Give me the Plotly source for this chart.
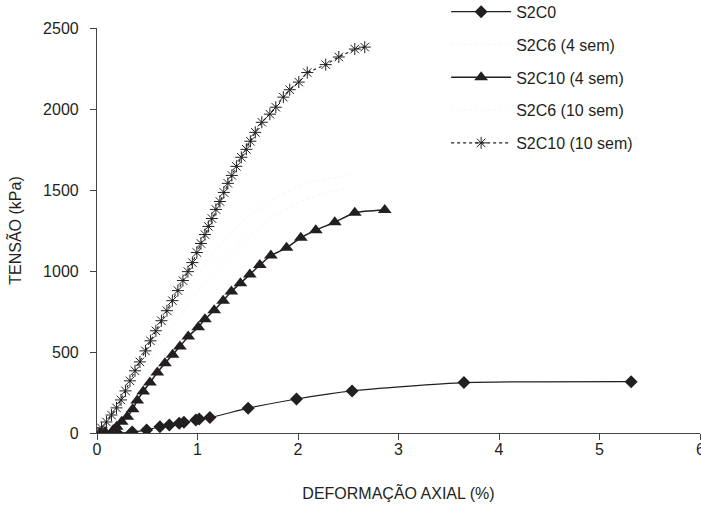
import plotly.graph_objects as go

# ---- data ----
s2c0_x = [0.20, 0.35, 0.494, 0.626, 0.72, 0.818, 0.865, 0.984, 1.017, 1.123, 1.504, 1.985, 2.538, 3.651, 5.315]
s2c0_y = [0, 6, 19, 39, 50, 60, 66, 80, 87, 95, 153, 210, 260, 311, 317]

s2c6_4_x = [0, 0.2, 0.4, 0.6, 0.8, 1.0, 1.2, 1.4, 1.6, 1.8, 2.0, 2.2, 2.4, 2.5]
s2c6_4_y = [0, 150, 330, 520, 700, 870, 1020, 1150, 1260, 1350, 1420, 1470, 1500, 1510]

s2c10_4_x = [0.03, 0.08, 0.162, 0.196, 0.246, 0.301, 0.355, 0.40, 0.46, 0.527, 0.60, 0.676, 0.752, 0.825,
             0.908, 1.007, 1.074, 1.166, 1.255, 1.337, 1.427, 1.521, 1.620, 1.730, 1.886, 2.028, 2.177,
             2.366, 2.565, 2.863]
s2c10_4_y = [0, 6, 19, 39, 70, 101, 147, 200, 256, 311, 373, 431, 483, 534, 596, 653, 702, 758, 816,
             873, 925, 978, 1037, 1095, 1143, 1205, 1252, 1301, 1360, 1376]

s2c6_10_x = [0, 0.2, 0.4, 0.6, 0.8, 1.0, 1.2, 1.4, 1.6, 1.8, 2.0, 2.2, 2.35, 2.5]
s2c6_10_y = [0, 190, 400, 600, 800, 980, 1140, 1280, 1380, 1460, 1520, 1560, 1575, 1590]

s2c10_10_x = [0.010, 0.045, 0.094, 0.144, 0.194, 0.239, 0.283, 0.328, 0.378, 0.427, 0.482, 0.532, 0.586,
              0.641, 0.696, 0.750, 0.805, 0.855, 0.905, 0.949, 0.994, 1.034, 1.074, 1.108, 1.143, 1.183,
              1.223, 1.262, 1.302, 1.342, 1.387, 1.436, 1.486, 1.526, 1.575, 1.640, 1.720, 1.779, 1.854,
              1.918, 2.008, 2.092, 2.276, 2.406, 2.565, 2.664]
s2c10_10_y = [0, 31, 68, 111, 155, 204, 260, 322, 384, 439, 507, 569, 631, 693, 755, 817, 879, 941, 996,
              1052, 1114, 1170, 1225, 1275, 1324, 1380, 1429, 1485, 1541, 1590, 1646, 1702, 1751, 1801,
              1856, 1918, 1968, 2011, 2073, 2119, 2166, 2225, 2274, 2321, 2370, 2382]

x_ticks = [0, 1, 2, 3, 4, 5, 6]
y_ticks = [0, 500, 1000, 1500, 2000, 2500]

FONT = "Liberation Sans, Arial, sans-serif"
INK = "#231f20"

fig = go.Figure()

fig.add_trace(go.Scatter(
    x=s2c0_x, y=s2c0_y, name="S2C0", mode="lines+markers",
    line=dict(color=INK, width=1.2, shape="spline", smoothing=0.5),
    marker=dict(symbol="diamond", size=10, color=INK),
    legendgroup="a"))

fig.add_trace(go.Scatter(
    x=s2c6_4_x, y=s2c6_4_y, name="S2C6 (4 sem)", mode="lines",
    line=dict(color="#f6f6f6", width=1, dash="dot", shape="spline"),
    legendgroup="b"))

fig.add_trace(go.Scatter(
    x=s2c10_4_x, y=s2c10_4_y, name="S2C10 (4 sem)", mode="lines+markers",
    line=dict(color=INK, width=1.5, shape="spline", smoothing=0.5),
    marker=dict(symbol="triangle-up", size=12, color=INK),
    legendgroup="c"))

fig.add_trace(go.Scatter(
    x=s2c6_10_x, y=s2c6_10_y, name="S2C6 (10 sem)", mode="lines",
    line=dict(color="#f6f6f6", width=1, dash="dot", shape="spline"),
    legendgroup="d"))

fig.add_trace(go.Scatter(
    x=s2c10_10_x, y=s2c10_10_y, name="S2C10 (10 sem)", mode="lines+markers",
    line=dict(color=INK, width=1.1, dash="dot"),
    marker=dict(symbol="asterisk-open", size=10, line=dict(color=INK, width=1)),
    legendgroup="e"))

fig.update_layout(
    width=701, height=507,
    margin=dict(l=97, r=1, t=28, b=74, autoexpand=False),
    paper_bgcolor="white", plot_bgcolor="white",
    font=dict(family=FONT, size=16, color=INK),
    showlegend=True,
    legend=dict(x=0.579, xanchor="left", y=1.082, yanchor="top",
                traceorder="grouped", tracegroupgap=9,
                font=dict(size=16, color=INK), bgcolor="rgba(0,0,0,0)",
                itemwidth=60),
    xaxis=dict(range=[0, 6], tickvals=x_ticks, ticktext=[str(v) for v in x_ticks],
               showline=True, linecolor="#444", linewidth=1.2, ticks="outside", ticklen=6,
               tickcolor="#444", showgrid=False, zeroline=False, ticklabelstandoff=-4,
               tickfont=dict(size=16), automargin=False,
               title=dict(text="DEFORMAÇÃO AXIAL (%)", standoff=30, font=dict(size=16))),
    yaxis=dict(range=[0, 2500], tickvals=y_ticks, ticktext=[str(v) for v in y_ticks],
               showline=True, linecolor="#444", linewidth=1.2, ticks="outside", ticklen=6,
               tickcolor="#444", showgrid=False, zeroline=False, ticklabelstandoff=8,
               tickfont=dict(size=16), automargin=False,
               title=dict(text="TENSÃO (kPa)", standoff=17, font=dict(size=16))),
)

# the last x tick label sits on the page edge (partly cut off, as in the reference)
fig.add_annotation(x=6, y=0, xref="x", yref="y", text="6", showarrow=False,
                   xanchor="center", yanchor="top", yshift=-6, font=dict(size=16, color=INK))

fig.write_html("out.html")
